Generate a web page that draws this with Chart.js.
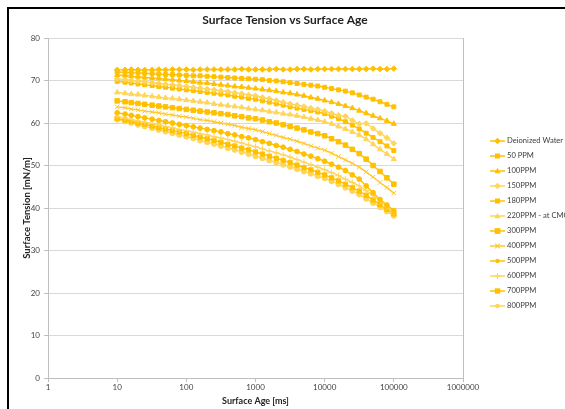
<!DOCTYPE html>
<html>
<head>
<meta charset="utf-8">
<script src="https://cdn.jsdelivr.net/npm/chart.js@4/dist/chart.umd.min.js"></script>
<style>
  html, body { margin: 0; padding: 0; background: #fff; overflow: hidden; }
  #wrap { position: relative; width: 565px; height: 409px; }
  #frame { position: absolute; left: 7px; top: 7px; width: 700px; height: 500px;
           border: 2px solid #000; pointer-events: none; }
  canvas { position: absolute; left: 0; top: 0; }
</style>
</head>
<body>
<div id="wrap">
  <canvas id="chart" width="565" height="409"></canvas>
  <div id="frame"></div>
</div>
<script>
// surface age in ms (same for all runs)
const ageMs = [10, 13, 16, 20, 25, 32, 40, 50, 63, 79,
  100, 126, 158, 200, 251, 316, 398, 501, 631, 794,
  1000, 1259, 1585, 1995, 2512, 3162, 3981, 5012, 6310, 7943,
  10000, 12589, 15849, 19953, 25119, 31623, 39811, 50119, 63096, 79433,
  100000];

const seriesNames = ['Deionized Water', '50 PPM', '100PPM', '150PPM', '180PPM', '220PPM - at CMC',
  '300PPM', '400PPM', '500PPM', '600PPM', '700PPM', '800PPM'];

const diWater = [72.5, 72.5, 72.6, 72.5, 72.5, 72.5, 72.6, 72.5, 72.6, 72.6,
  72.6, 72.5, 72.6, 72.6, 72.6, 72.6, 72.6, 72.6, 72.7, 72.6,
  72.6, 72.6, 72.6, 72.7, 72.6, 72.6, 72.7, 72.7, 72.6, 72.7,
  72.7, 72.7, 72.7, 72.7, 72.7, 72.7, 72.7, 72.8, 72.7, 72.7,
  72.8];
const ppm50 = [72.0, 71.9, 71.8, 71.8, 71.7, 71.6, 71.5, 71.4, 71.4, 71.3,
  71.2, 71.1, 71.1, 71.0, 70.9, 70.8, 70.7, 70.6, 70.5, 70.4,
  70.3, 70.2, 70.0, 69.9, 69.7, 69.5, 69.3, 69.1, 68.9, 68.7,
  68.4, 68.1, 67.8, 67.5, 67.1, 66.6, 66.1, 65.6, 65.0, 64.4,
  63.8];
const ppm100 = [71.3, 71.2, 71.0, 70.9, 70.7, 70.6, 70.5, 70.3, 70.2, 70.0,
  69.9, 69.7, 69.5, 69.4, 69.2, 69.0, 68.8, 68.6, 68.5, 68.3,
  68.1, 67.9, 67.7, 67.5, 67.2, 67.0, 66.7, 66.4, 66.0, 65.7,
  65.3, 64.9, 64.5, 64.0, 63.5, 62.9, 62.3, 61.7, 61.1, 60.5,
  59.8];
const ppm150 = [70.4, 70.2, 70.0, 69.9, 69.7, 69.5, 69.3, 69.1, 69.0, 68.8,
  68.6, 68.4, 68.2, 68.0, 67.8, 67.6, 67.4, 67.1, 66.9, 66.6,
  66.4, 66.0, 65.7, 65.3, 64.9, 64.5, 64.2, 63.9, 63.5, 63.2,
  62.8, 62.3, 61.8, 61.6, 60.6, 59.8, 59.9, 58.7, 57.6, 56.5,
  55.2];
const ppm180 = [69.8, 69.6, 69.4, 69.2, 69.0, 68.8, 68.6, 68.4, 68.2, 68.0,
  67.8, 67.6, 67.4, 67.2, 67.0, 66.8, 66.6, 66.3, 66.1, 65.8,
  65.6, 65.2, 64.9, 64.5, 64.2, 63.8, 63.5, 63.2, 62.9, 62.6,
  62.2, 61.6, 61.0, 60.3, 59.5, 58.6, 57.6, 56.6, 55.6, 54.6,
  53.5];
const ppm220 = [67.2, 67.0, 66.8, 66.7, 66.5, 66.3, 66.1, 65.9, 65.8, 65.6,
  65.4, 65.2, 65.0, 64.8, 64.5, 64.3, 64.1, 63.9, 63.7, 63.4,
  63.2, 63.0, 62.7, 62.5, 62.2, 62.0, 61.7, 61.4, 61.0, 60.7,
  60.3, 59.8, 59.2, 58.6, 57.9, 57.2, 56.2, 55.0, 53.8, 52.7,
  51.5];
const ppm300 = [65.2, 65.0, 64.8, 64.6, 64.4, 64.2, 64.0, 63.8, 63.6, 63.4,
  63.2, 63.0, 62.8, 62.6, 62.4, 62.2, 62.0, 61.7, 61.5, 61.2,
  61.0, 60.7, 60.3, 60.0, 59.6, 59.2, 58.8, 58.4, 57.9, 57.5,
  57.0, 56.3, 55.6, 54.8, 53.8, 52.8, 51.5, 50.0, 48.6, 47.1,
  45.6];
const ppm400 = [63.8, 63.6, 63.3, 63.1, 62.8, 62.6, 62.4, 62.1, 61.9, 61.6,
  61.4, 61.1, 60.8, 60.6, 60.3, 60.0, 59.7, 59.4, 59.0, 58.7,
  58.4, 58.0, 57.5, 57.1, 56.6, 56.2, 55.7, 55.2, 54.6, 54.1,
  53.6, 52.9, 52.1, 51.3, 50.5, 49.6, 48.5, 47.3, 46.0, 44.8,
  43.5];
const ppm500 = [62.4, 62.1, 61.8, 61.5, 61.2, 60.9, 60.6, 60.3, 60.0, 59.7,
  59.4, 59.1, 58.8, 58.5, 58.2, 57.9, 57.5, 57.2, 56.8, 56.5,
  56.1, 55.6, 55.2, 54.7, 54.3, 53.8, 53.3, 52.7, 52.2, 51.6,
  51.0, 50.3, 49.6, 48.8, 47.8, 46.8, 45.2, 43.6, 42.0, 40.7,
  39.4];
const ppm600 = [61.5, 61.2, 60.8, 60.5, 60.2, 59.9, 59.6, 59.2, 58.9, 58.5,
  58.2, 57.9, 57.5, 57.2, 56.8, 56.5, 56.1, 55.7, 55.3, 54.8,
  54.4, 53.9, 53.4, 53.0, 52.5, 52.0, 51.4, 50.8, 50.2, 49.6,
  49.0, 48.3, 47.6, 46.8, 46.0, 45.2, 44.1, 42.9, 41.6, 40.3,
  39.0];
const ppm700 = [61.1, 60.7, 60.4, 60.0, 59.7, 59.3, 58.9, 58.6, 58.2, 57.9,
  57.5, 57.1, 56.7, 56.3, 55.9, 55.5, 55.0, 54.6, 54.1, 53.7,
  53.2, 52.7, 52.2, 51.7, 51.2, 50.7, 50.1, 49.5, 49.0, 48.4,
  47.8, 47.1, 46.4, 45.6, 44.8, 44.0, 43.0, 41.9, 40.8, 39.7,
  38.6];
const ppm800 = [60.8, 60.4, 60.0, 59.6, 59.2, 58.8, 58.4, 58.0, 57.6, 57.2,
  56.8, 56.4, 55.9, 55.5, 55.1, 54.6, 54.1, 53.7, 53.2, 52.7,
  52.2, 51.7, 51.2, 50.7, 50.2, 49.7, 49.2, 48.6, 48.1, 47.5,
  47.0, 46.3, 45.6, 44.8, 44.0, 43.2, 42.2, 41.2, 40.2, 39.2,
  38.2];

const allSeries = [diWater, ppm50, ppm100, ppm150, ppm180, ppm220,
  ppm300, ppm400, ppm500, ppm600, ppm700, ppm800];

const xTicks = [1, 10, 100, 1000, 10000, 100000, 1000000];
const chartTitle = 'Surface Tension vs Surface Age';

// marker style per series (Excel gold shades)
const gold = '#FFC000';
const lightGold = '#FFD55A';
const styles = [
  { c: gold, p: 'rectRot', r: 2.8 },
  { c: gold, p: 'rect', r: 2.8 },
  { c: gold, p: 'triangle', r: 3 },
  { c: lightGold, p: 'rectRot', r: 2.8 },
  { c: gold, p: 'rect', r: 2.8 },
  { c: lightGold, p: 'triangle', r: 3 },
  { c: gold, p: 'rect', r: 3.2 },
  { c: '#FFC82E', p: 'crossRot', r: 3.2 },
  { c: gold, p: 'circle', r: 2.4 },
  { c: lightGold, p: 'cross', r: 3.2 },
  { c: gold, p: 'rect', r: 3 },
  { c: lightGold, p: 'circle', r: 2.6 }
];

const datasets = allSeries.map((vals, i) => ({
  label: seriesNames[i],
  data: ageMs.map((a, j) => ({ x: a, y: vals[j] })),
  borderColor: styles[i].c,
  backgroundColor: styles[i].c,
  pointBackgroundColor: styles[i].c,
  pointBorderColor: styles[i].c,
  pointStyle: styles[i].p,
  pointRadius: styles[i].r,
  pointBorderWidth: 1,
  borderWidth: 1.4,
  tension: 0,
  fill: false
}));

function drawMarker(ctx, style, x, y, r, color) {
  ctx.fillStyle = color;
  ctx.strokeStyle = color;
  ctx.lineWidth = 1.2;
  ctx.beginPath();
  if (style === 'rect') {
    ctx.rect(x - r, y - r, 2 * r, 2 * r); ctx.fill();
  } else if (style === 'rectRot') {
    ctx.moveTo(x, y - r * 1.3); ctx.lineTo(x + r * 1.3, y); ctx.lineTo(x, y + r * 1.3); ctx.lineTo(x - r * 1.3, y);
    ctx.closePath(); ctx.fill();
  } else if (style === 'triangle') {
    ctx.moveTo(x, y - r * 1.2); ctx.lineTo(x + r * 1.1, y + r * 0.8); ctx.lineTo(x - r * 1.1, y + r * 0.8);
    ctx.closePath(); ctx.fill();
  } else if (style === 'circle') {
    ctx.arc(x, y, r, 0, Math.PI * 2); ctx.fill();
  } else if (style === 'cross') {
    ctx.moveTo(x - r, y); ctx.lineTo(x + r, y); ctx.moveTo(x, y - r); ctx.lineTo(x, y + r); ctx.stroke();
  } else if (style === 'crossRot') {
    ctx.moveTo(x - r * 0.8, y - r * 0.8); ctx.lineTo(x + r * 0.8, y + r * 0.8);
    ctx.moveTo(x + r * 0.8, y - r * 0.8); ctx.lineTo(x - r * 0.8, y + r * 0.8); ctx.stroke();
  }
}

// title + legend on the right, drawn like the spreadsheet ones
const sideLegend = {
  id: 'sideLegend',
  afterDraw(chart) {
    const ctx = chart.ctx;
    ctx.save();
    ctx.font = 'bold 12px Lato';
    ctx.fillStyle = '#222';
    ctx.textAlign = 'center';
    ctx.textBaseline = 'middle';
    ctx.fillText(chartTitle, 285, 20);

    ctx.textAlign = 'left';
    ctx.font = '7.6px Lato';
    chart.data.datasets.forEach((ds, i) => {
      const y = 141 + i * 15.0;
      ctx.strokeStyle = ds.borderColor;
      ctx.lineWidth = 1.5;
      ctx.beginPath();
      ctx.moveTo(490, y); ctx.lineTo(505, y);
      ctx.stroke();
      drawMarker(ctx, ds.pointStyle, 497.5, y, ds.pointRadius * 0.9, ds.borderColor);
      ctx.fillStyle = '#404040';
      ctx.fillText(ds.label, 507, y);
    });
    ctx.restore();
  }
};

new Chart(document.getElementById('chart'), {
  type: 'line',
  data: { datasets: datasets },
  options: {
    responsive: false,
    devicePixelRatio: 1,
    animation: false,
    layout: { padding: { top: 38, left: 0, right: 102, bottom: 0 } },
    plugins: {
      legend: { display: false },
      tooltip: { enabled: false },
      title: { display: false }
    },
    scales: {
      x: {
        type: 'logarithmic',
        min: 1,
        max: 1000000,
        afterBuildTicks: (scale) => { scale.ticks = xTicks.map(v => ({ value: v })); },
        afterFit: (scale) => { scale.height = 31; },
        ticks: {
          autoSkip: false,
          maxRotation: 0,
          padding: 1,
          color: '#444',
          font: { family: 'Lato', size: 8 },
          callback: (v) => String(v)
        },
        grid: {
          color: (c) => (c.index === 0 || c.index === xTicks.length - 1) ? '#BFBFBF' : 'rgba(0,0,0,0)',
          tickColor: '#BFBFBF',
          tickLength: 4,
          lineWidth: 1
        },
        border: { color: '#BFBFBF' },
        title: {
          display: true,
          text: 'Surface Age [ms]',
          color: '#222',
          font: { family: 'Lato', size: 9, weight: 'bold' },
          padding: { top: 0, bottom: 2.5 }
        }
      },
      y: {
        min: 0,
        max: 80,
        afterFit: (scale) => { scale.width = 48; },
        ticks: {
          stepSize: 10,
          padding: 4,
          color: '#444',
          font: { family: 'Lato', size: 8 }
        },
        grid: { color: '#D9D9D9', tickColor: '#BFBFBF', tickLength: 4, lineWidth: 1 },
        border: { color: '#BFBFBF' },
        title: {
          display: true,
          text: 'Surface Tension [mN/m]',
          color: '#222',
          font: { family: 'Lato', size: 9.5, weight: 'bold' },
          padding: { top: 21, bottom: 0 }
        }
      }
    }
  },
  plugins: [sideLegend]
});
</script>
</body>
</html>
